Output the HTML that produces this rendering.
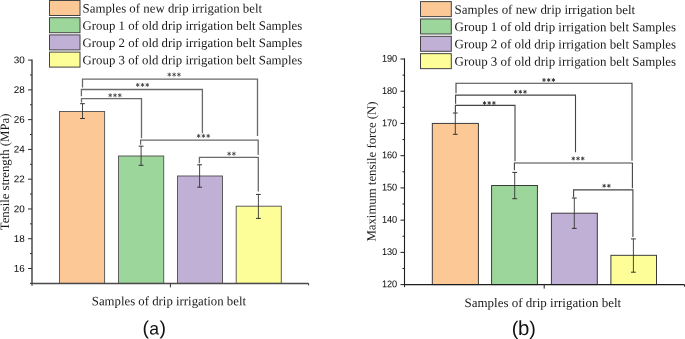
<!DOCTYPE html>
<html><head><meta charset="utf-8"><style>
html,body{margin:0;padding:0;background:#fff;}
body{width:685px;height:339px;overflow:hidden;}
svg{display:block;will-change:transform;}
text{font-kerning:normal;}
</style></head><body>
<svg width="685" height="339" viewBox="0 0 685 339">
<rect x="0" y="0" width="685" height="339" fill="#fff"/>
<rect x="49.5" y="0.5" width="30.5" height="15" fill="#FCC896" stroke="#444" stroke-width="1"/>
<rect x="49.5" y="17.7" width="30.5" height="15" fill="#9DD69B" stroke="#444" stroke-width="1"/>
<rect x="49.5" y="34.9" width="30.5" height="15" fill="#C1B0D6" stroke="#444" stroke-width="1"/>
<rect x="49.5" y="52.1" width="30.5" height="15" fill="#FEFE99" stroke="#444" stroke-width="1"/>
<text transform="rotate(0.04 82.6 12.5)" x="82.6" y="12.5" font-size="12.7" font-family='"Liberation Serif", serif' text-anchor="start" fill="#1a1a1a" textLength="179.5" lengthAdjust="spacingAndGlyphs" >Samples of new drip irrigation belt</text>
<text transform="rotate(0.04 82.6 29.73)" x="82.6" y="29.73" font-size="12.7" font-family='"Liberation Serif", serif' text-anchor="start" fill="#1a1a1a" textLength="219.6" lengthAdjust="spacingAndGlyphs" >Group 1 of old drip irrigation belt Samples</text>
<text transform="rotate(0.04 82.6 46.96)" x="82.6" y="46.96" font-size="12.7" font-family='"Liberation Serif", serif' text-anchor="start" fill="#1a1a1a" textLength="219.6" lengthAdjust="spacingAndGlyphs" >Group 2 of old drip irrigation belt Samples</text>
<text transform="rotate(0.04 82.6 64.19)" x="82.6" y="64.19" font-size="12.7" font-family='"Liberation Serif", serif' text-anchor="start" fill="#1a1a1a" textLength="219.6" lengthAdjust="spacingAndGlyphs" >Group 3 of old drip irrigation belt Samples</text>
<rect x="59.5" y="111.5" width="45.1" height="171.9" fill="#FCC896" stroke="#555" stroke-width="0.95"/>
<rect x="118.5" y="156" width="45.2" height="127.4" fill="#9DD69B" stroke="#555" stroke-width="0.95"/>
<rect x="177.5" y="176" width="45" height="107.4" fill="#C1B0D6" stroke="#555" stroke-width="0.95"/>
<rect x="236.2" y="206.2" width="45.1" height="77.2" fill="#FEFE99" stroke="#555" stroke-width="0.95"/>
<line x1="82.5" y1="103.7" x2="82.5" y2="118.5" stroke="#333" stroke-width="0.9"/>
<line x1="80.1" y1="103.7" x2="84.9" y2="103.7" stroke="#333" stroke-width="1"/>
<line x1="80.1" y1="118.5" x2="84.9" y2="118.5" stroke="#333" stroke-width="1"/>
<line x1="141.1" y1="146.2" x2="141.1" y2="165.3" stroke="#333" stroke-width="0.9"/>
<line x1="138.7" y1="146.2" x2="143.5" y2="146.2" stroke="#333" stroke-width="1"/>
<line x1="138.7" y1="165.3" x2="143.5" y2="165.3" stroke="#333" stroke-width="1"/>
<line x1="199.6" y1="164.8" x2="199.6" y2="187.2" stroke="#333" stroke-width="0.9"/>
<line x1="197.2" y1="164.8" x2="202" y2="164.8" stroke="#333" stroke-width="1"/>
<line x1="197.2" y1="187.2" x2="202" y2="187.2" stroke="#333" stroke-width="1"/>
<line x1="258.4" y1="194.4" x2="258.4" y2="218.4" stroke="#333" stroke-width="0.9"/>
<line x1="256" y1="194.4" x2="260.8" y2="194.4" stroke="#333" stroke-width="1"/>
<line x1="256" y1="218.4" x2="260.8" y2="218.4" stroke="#333" stroke-width="1"/>
<polyline points="82.5,86.9 82.5,79.1 257.5,79.1 257.5,135.3" fill="none" stroke="#6a6a6a" stroke-width="1.3" stroke-linejoin="miter" stroke-linecap="square"/>
<path d="M169.3 72.6L169.3 76.6M167.57 73.6L171.03 75.6M171.03 73.6L167.57 75.6" stroke="#444" stroke-width="0.85" fill="none"/>
<path d="M174.1 72.6L174.1 76.6M172.37 73.6L175.83 75.6M175.83 73.6L172.37 75.6" stroke="#444" stroke-width="0.85" fill="none"/>
<path d="M178.9 72.6L178.9 76.6M177.17 73.6L180.63 75.6M180.63 73.6L177.17 75.6" stroke="#444" stroke-width="0.85" fill="none"/>
<polyline points="81.4,95.7 81.4,89.5 202.4,89.5 202.4,132.5" fill="none" stroke="#6a6a6a" stroke-width="1.3" stroke-linejoin="miter" stroke-linecap="square"/>
<path d="M137.7 82.9L137.7 86.9M135.97 83.9L139.43 85.9M139.43 83.9L135.97 85.9" stroke="#444" stroke-width="0.85" fill="none"/>
<path d="M142.5 82.9L142.5 86.9M140.77 83.9L144.23 85.9M144.23 83.9L140.77 85.9" stroke="#444" stroke-width="0.85" fill="none"/>
<path d="M147.3 82.9L147.3 86.9M145.57 83.9L149.03 85.9M149.03 83.9L145.57 85.9" stroke="#444" stroke-width="0.85" fill="none"/>
<polyline points="81.5,101.8 81.5,98.6 141.5,98.6 141.5,137.7" fill="none" stroke="#6a6a6a" stroke-width="1.3" stroke-linejoin="miter" stroke-linecap="square"/>
<path d="M110.2 93.3L110.2 97.3M108.47 94.3L111.93 96.3M111.93 94.3L108.47 96.3" stroke="#444" stroke-width="0.85" fill="none"/>
<path d="M115 93.3L115 97.3M113.27 94.3L116.73 96.3M116.73 94.3L113.27 96.3" stroke="#444" stroke-width="0.85" fill="none"/>
<path d="M119.8 93.3L119.8 97.3M118.07 94.3L121.53 96.3M121.53 94.3L118.07 96.3" stroke="#444" stroke-width="0.85" fill="none"/>
<polyline points="140.6,144.2 140.6,140.2 258.2,140.2 258.2,154.3" fill="none" stroke="#6a6a6a" stroke-width="1.3" stroke-linejoin="miter" stroke-linecap="square"/>
<path d="M198.6 133.9L198.6 137.9M196.87 134.9L200.33 136.9M200.33 134.9L196.87 136.9" stroke="#444" stroke-width="0.85" fill="none"/>
<path d="M203.4 133.9L203.4 137.9M201.67 134.9L205.13 136.9M205.13 134.9L201.67 136.9" stroke="#444" stroke-width="0.85" fill="none"/>
<path d="M208.2 133.9L208.2 137.9M206.47 134.9L209.93 136.9M209.93 134.9L206.47 136.9" stroke="#444" stroke-width="0.85" fill="none"/>
<polyline points="199.4,162.7 199.4,157.3 258.3,157.3 258.3,190.9" fill="none" stroke="#6a6a6a" stroke-width="1.3" stroke-linejoin="miter" stroke-linecap="square"/>
<path d="M229.1 151.7L229.1 155.7M227.37 152.7L230.83 154.7M230.83 152.7L227.37 154.7" stroke="#444" stroke-width="0.85" fill="none"/>
<path d="M233.9 151.7L233.9 155.7M232.17 152.7L235.63 154.7M235.63 152.7L232.17 154.7" stroke="#444" stroke-width="0.85" fill="none"/>
<line x1="32" y1="59.5" x2="32" y2="284" stroke="#4a4a4a" stroke-width="1.5"/>
<line x1="31.4" y1="283.4" x2="308.6" y2="283.4" stroke="#4a4a4a" stroke-width="1.5"/>
<line x1="28" y1="60.1" x2="32" y2="60.1" stroke="#333" stroke-width="1"/>
<text transform="rotate(0.04 24.7 63.3)" x="24.7" y="63.3" font-size="9.8" font-family='"Liberation Sans", sans-serif' text-anchor="end" fill="#000" textLength="11.0" lengthAdjust="spacingAndGlyphs" >30</text>
<line x1="30" y1="74.99" x2="32" y2="74.99" stroke="#333" stroke-width="1"/>
<line x1="28" y1="89.87" x2="32" y2="89.87" stroke="#333" stroke-width="1"/>
<text transform="rotate(0.04 24.7 93.07)" x="24.7" y="93.07" font-size="9.8" font-family='"Liberation Sans", sans-serif' text-anchor="end" fill="#000" textLength="11.0" lengthAdjust="spacingAndGlyphs" >28</text>
<line x1="30" y1="104.76" x2="32" y2="104.76" stroke="#333" stroke-width="1"/>
<line x1="28" y1="119.64" x2="32" y2="119.64" stroke="#333" stroke-width="1"/>
<text transform="rotate(0.04 24.7 122.84)" x="24.7" y="122.84" font-size="9.8" font-family='"Liberation Sans", sans-serif' text-anchor="end" fill="#000" textLength="11.0" lengthAdjust="spacingAndGlyphs" >26</text>
<line x1="30" y1="134.53" x2="32" y2="134.53" stroke="#333" stroke-width="1"/>
<line x1="28" y1="149.42" x2="32" y2="149.42" stroke="#333" stroke-width="1"/>
<text transform="rotate(0.04 24.7 152.62)" x="24.7" y="152.62" font-size="9.8" font-family='"Liberation Sans", sans-serif' text-anchor="end" fill="#000" textLength="11.0" lengthAdjust="spacingAndGlyphs" >24</text>
<line x1="30" y1="164.3" x2="32" y2="164.3" stroke="#333" stroke-width="1"/>
<line x1="28" y1="179.19" x2="32" y2="179.19" stroke="#333" stroke-width="1"/>
<text transform="rotate(0.04 24.7 182.39)" x="24.7" y="182.39" font-size="9.8" font-family='"Liberation Sans", sans-serif' text-anchor="end" fill="#000" textLength="11.0" lengthAdjust="spacingAndGlyphs" >22</text>
<line x1="30" y1="194.07" x2="32" y2="194.07" stroke="#333" stroke-width="1"/>
<line x1="28" y1="208.96" x2="32" y2="208.96" stroke="#333" stroke-width="1"/>
<text transform="rotate(0.04 24.7 212.16)" x="24.7" y="212.16" font-size="9.8" font-family='"Liberation Sans", sans-serif' text-anchor="end" fill="#000" textLength="11.0" lengthAdjust="spacingAndGlyphs" >20</text>
<line x1="30" y1="223.85" x2="32" y2="223.85" stroke="#333" stroke-width="1"/>
<line x1="28" y1="238.73" x2="32" y2="238.73" stroke="#333" stroke-width="1"/>
<text transform="rotate(0.04 24.7 241.93)" x="24.7" y="241.93" font-size="9.8" font-family='"Liberation Sans", sans-serif' text-anchor="end" fill="#000" textLength="11.0" lengthAdjust="spacingAndGlyphs" >18</text>
<line x1="30" y1="253.62" x2="32" y2="253.62" stroke="#333" stroke-width="1"/>
<line x1="28" y1="268.5" x2="32" y2="268.5" stroke="#333" stroke-width="1"/>
<text transform="rotate(0.04 24.7 271.7)" x="24.7" y="271.7" font-size="9.8" font-family='"Liberation Sans", sans-serif' text-anchor="end" fill="#000" textLength="11.0" lengthAdjust="spacingAndGlyphs" >16</text>
<line x1="30" y1="283.39" x2="32" y2="283.39" stroke="#333" stroke-width="1"/>
<line x1="170.4" y1="283.4" x2="170.4" y2="287.4" stroke="#333" stroke-width="1"/>
<line x1="308.6" y1="283.4" x2="308.6" y2="285.4" stroke="#333" stroke-width="1"/>
<line x1="32" y1="283.4" x2="32" y2="285.9" stroke="#333" stroke-width="1"/>
<text transform="rotate(0.04 91.8 305.2)" x="91.8" y="305.2" font-size="12.8" font-family='"Liberation Serif", serif' text-anchor="start" fill="#1a1a1a" textLength="154.2" lengthAdjust="spacingAndGlyphs" >Samples of drip irrigation belt</text>
<text transform="translate(9,230.2) rotate(-89.96)" x="0" y="0" font-size="12.8" font-family='"Liberation Serif", serif' fill="#1a1a1a" textLength="116.6" lengthAdjust="spacingAndGlyphs">Tensile strength (MPa)</text>
<text transform="rotate(0.04 142.6 334.6)" x="142.6" y="334.6" font-size="19.5" font-family='"Liberation Sans", sans-serif' text-anchor="start" fill="#111" >(</text>
<text transform="rotate(0.04 149.2 334.6)" x="149.2" y="334.6" font-size="17.6" font-family='"Liberation Sans", sans-serif' text-anchor="start" fill="#111" >a</text>
<text transform="rotate(0.04 159.4 334.6)" x="159.4" y="334.6" font-size="19.5" font-family='"Liberation Sans", sans-serif' text-anchor="start" fill="#111" >)</text>
<rect x="420.5" y="1.6" width="30.8" height="15" fill="#FCC896" stroke="#444" stroke-width="1"/>
<rect x="420.5" y="18.95" width="30.8" height="15" fill="#9DD69B" stroke="#444" stroke-width="1"/>
<rect x="420.5" y="36.3" width="30.8" height="15" fill="#C1B0D6" stroke="#444" stroke-width="1"/>
<rect x="420.5" y="53.65" width="30.8" height="15" fill="#FEFE99" stroke="#444" stroke-width="1"/>
<text transform="rotate(0.04 454.6 13.8)" x="454.6" y="13.8" font-size="12.9" font-family='"Liberation Serif", serif' text-anchor="start" fill="#1a1a1a" textLength="180.6" lengthAdjust="spacingAndGlyphs" >Samples of new drip irrigation belt</text>
<text transform="rotate(0.04 454.6 31.07)" x="454.6" y="31.07" font-size="12.9" font-family='"Liberation Serif", serif' text-anchor="start" fill="#1a1a1a" textLength="221.5" lengthAdjust="spacingAndGlyphs" >Group 1 of old drip irrigation belt Samples</text>
<text transform="rotate(0.04 454.6 48.34)" x="454.6" y="48.34" font-size="12.9" font-family='"Liberation Serif", serif' text-anchor="start" fill="#1a1a1a" textLength="221.5" lengthAdjust="spacingAndGlyphs" >Group 2 of old drip irrigation belt Samples</text>
<text transform="rotate(0.04 454.6 65.61)" x="454.6" y="65.61" font-size="12.9" font-family='"Liberation Serif", serif' text-anchor="start" fill="#1a1a1a" textLength="221.5" lengthAdjust="spacingAndGlyphs" >Group 3 of old drip irrigation belt Samples</text>
<rect x="432.3" y="123.4" width="46.1" height="161.2" fill="#FCC896" stroke="#333" stroke-width="0.95"/>
<rect x="491.6" y="185.5" width="45.8" height="99.1" fill="#9DD69B" stroke="#333" stroke-width="0.95"/>
<rect x="551.4" y="213.2" width="45.9" height="71.4" fill="#C1B0D6" stroke="#333" stroke-width="0.95"/>
<rect x="610.9" y="255.3" width="45.6" height="29.3" fill="#FEFE99" stroke="#333" stroke-width="0.95"/>
<line x1="455.3" y1="113" x2="455.3" y2="134.3" stroke="#333" stroke-width="0.9"/>
<line x1="452.9" y1="113" x2="457.7" y2="113" stroke="#333" stroke-width="1"/>
<line x1="452.9" y1="134.3" x2="457.7" y2="134.3" stroke="#333" stroke-width="1"/>
<line x1="514.7" y1="172.4" x2="514.7" y2="198.7" stroke="#333" stroke-width="0.9"/>
<line x1="512.3" y1="172.4" x2="517.1" y2="172.4" stroke="#333" stroke-width="1"/>
<line x1="512.3" y1="198.7" x2="517.1" y2="198.7" stroke="#333" stroke-width="1"/>
<line x1="574.3" y1="198" x2="574.3" y2="228.4" stroke="#333" stroke-width="0.9"/>
<line x1="571.9" y1="198" x2="576.7" y2="198" stroke="#333" stroke-width="1"/>
<line x1="571.9" y1="228.4" x2="576.7" y2="228.4" stroke="#333" stroke-width="1"/>
<line x1="633.4" y1="238.9" x2="633.4" y2="272.2" stroke="#333" stroke-width="0.9"/>
<line x1="631" y1="238.9" x2="635.8" y2="238.9" stroke="#333" stroke-width="1"/>
<line x1="631" y1="272.2" x2="635.8" y2="272.2" stroke="#333" stroke-width="1"/>
<polyline points="456,92.6 456,83.3 632,83.3 632,160.3" fill="none" stroke="#444" stroke-width="1.1" stroke-linejoin="miter" stroke-linecap="square"/>
<path d="M544 78.1L544 81.9M542.35 79.05L545.65 80.95M545.65 79.05L542.35 80.95" stroke="#333" stroke-width="0.9" fill="none"/>
<path d="M548.7 78.1L548.7 81.9M547.05 79.05L550.35 80.95M550.35 79.05L547.05 80.95" stroke="#333" stroke-width="0.9" fill="none"/>
<path d="M553.4 78.1L553.4 81.9M551.75 79.05L555.05 80.95M555.05 79.05L551.75 80.95" stroke="#333" stroke-width="0.9" fill="none"/>
<polyline points="455.6,103.2 455.6,95.1 575.5,95.1 575.5,151.6" fill="none" stroke="#444" stroke-width="1.1" stroke-linejoin="miter" stroke-linecap="square"/>
<path d="M515.6 89.9L515.6 93.7M513.95 90.85L517.25 92.75M517.25 90.85L513.95 92.75" stroke="#333" stroke-width="0.9" fill="none"/>
<path d="M520.3 89.9L520.3 93.7M518.65 90.85L521.95 92.75M521.95 90.85L518.65 92.75" stroke="#333" stroke-width="0.9" fill="none"/>
<path d="M525 89.9L525 93.7M523.35 90.85L526.65 92.75M526.65 90.85L523.35 92.75" stroke="#333" stroke-width="0.9" fill="none"/>
<polyline points="455.4,112.2 455.4,105.4 515,105.4 515,160.6" fill="none" stroke="#444" stroke-width="1.1" stroke-linejoin="miter" stroke-linecap="square"/>
<path d="M484.5 101.1L484.5 104.9M482.85 102.05L486.15 103.95M486.15 102.05L482.85 103.95" stroke="#333" stroke-width="0.9" fill="none"/>
<path d="M489.2 101.1L489.2 104.9M487.55 102.05L490.85 103.95M490.85 102.05L487.55 103.95" stroke="#333" stroke-width="0.9" fill="none"/>
<path d="M493.9 101.1L493.9 104.9M492.25 102.05L495.55 103.95M495.55 102.05L492.25 103.95" stroke="#333" stroke-width="0.9" fill="none"/>
<polyline points="514.4,169.8 514.4,163 632.4,163 632.4,187.8" fill="none" stroke="#444" stroke-width="1.1" stroke-linejoin="miter" stroke-linecap="square"/>
<path d="M573.3 156.6L573.3 160.4M571.65 157.55L574.95 159.45M574.95 157.55L571.65 159.45" stroke="#333" stroke-width="0.9" fill="none"/>
<path d="M578 156.6L578 160.4M576.35 157.55L579.65 159.45M579.65 157.55L576.35 159.45" stroke="#333" stroke-width="0.9" fill="none"/>
<path d="M582.7 156.6L582.7 160.4M581.05 157.55L584.35 159.45M584.35 157.55L581.05 159.45" stroke="#333" stroke-width="0.9" fill="none"/>
<polyline points="573.6,196.7 573.6,189.9 632.9,189.9 632.9,236.5" fill="none" stroke="#444" stroke-width="1.1" stroke-linejoin="miter" stroke-linecap="square"/>
<path d="M604.15 183.9L604.15 187.7M602.5 184.85L605.8 186.75M605.8 184.85L602.5 186.75" stroke="#333" stroke-width="0.9" fill="none"/>
<path d="M608.85 183.9L608.85 187.7M607.2 184.85L610.5 186.75M610.5 184.85L607.2 186.75" stroke="#333" stroke-width="0.9" fill="none"/>
<line x1="404.5" y1="58.4" x2="404.5" y2="285.2" stroke="#1e1e1e" stroke-width="1.1"/>
<line x1="403.9" y1="284.6" x2="684.5" y2="284.6" stroke="#1e1e1e" stroke-width="1.1"/>
<line x1="400.5" y1="59" x2="404.5" y2="59" stroke="#1e1e1e" stroke-width="1"/>
<text transform="rotate(0.04 397.2 61.7)" x="397.2" y="61.7" font-size="9.8" font-family='"Liberation Sans", sans-serif' text-anchor="end" fill="#000" textLength="15.3" lengthAdjust="spacingAndGlyphs" >190</text>
<line x1="402.5" y1="75.11" x2="404.5" y2="75.11" stroke="#1e1e1e" stroke-width="1"/>
<line x1="400.5" y1="91.23" x2="404.5" y2="91.23" stroke="#1e1e1e" stroke-width="1"/>
<text transform="rotate(0.04 397.2 93.93)" x="397.2" y="93.93" font-size="9.8" font-family='"Liberation Sans", sans-serif' text-anchor="end" fill="#000" textLength="15.3" lengthAdjust="spacingAndGlyphs" >180</text>
<line x1="402.5" y1="107.34" x2="404.5" y2="107.34" stroke="#1e1e1e" stroke-width="1"/>
<line x1="400.5" y1="123.46" x2="404.5" y2="123.46" stroke="#1e1e1e" stroke-width="1"/>
<text transform="rotate(0.04 397.2 126.16)" x="397.2" y="126.16" font-size="9.8" font-family='"Liberation Sans", sans-serif' text-anchor="end" fill="#000" textLength="15.3" lengthAdjust="spacingAndGlyphs" >170</text>
<line x1="402.5" y1="139.57" x2="404.5" y2="139.57" stroke="#1e1e1e" stroke-width="1"/>
<line x1="400.5" y1="155.69" x2="404.5" y2="155.69" stroke="#1e1e1e" stroke-width="1"/>
<text transform="rotate(0.04 397.2 158.39)" x="397.2" y="158.39" font-size="9.8" font-family='"Liberation Sans", sans-serif' text-anchor="end" fill="#000" textLength="15.3" lengthAdjust="spacingAndGlyphs" >160</text>
<line x1="402.5" y1="171.81" x2="404.5" y2="171.81" stroke="#1e1e1e" stroke-width="1"/>
<line x1="400.5" y1="187.92" x2="404.5" y2="187.92" stroke="#1e1e1e" stroke-width="1"/>
<text transform="rotate(0.04 397.2 190.62)" x="397.2" y="190.62" font-size="9.8" font-family='"Liberation Sans", sans-serif' text-anchor="end" fill="#000" textLength="15.3" lengthAdjust="spacingAndGlyphs" >150</text>
<line x1="402.5" y1="204.03" x2="404.5" y2="204.03" stroke="#1e1e1e" stroke-width="1"/>
<line x1="400.5" y1="220.15" x2="404.5" y2="220.15" stroke="#1e1e1e" stroke-width="1"/>
<text transform="rotate(0.04 397.2 222.85)" x="397.2" y="222.85" font-size="9.8" font-family='"Liberation Sans", sans-serif' text-anchor="end" fill="#000" textLength="15.3" lengthAdjust="spacingAndGlyphs" >140</text>
<line x1="402.5" y1="236.26" x2="404.5" y2="236.26" stroke="#1e1e1e" stroke-width="1"/>
<line x1="400.5" y1="252.38" x2="404.5" y2="252.38" stroke="#1e1e1e" stroke-width="1"/>
<text transform="rotate(0.04 397.2 255.08)" x="397.2" y="255.08" font-size="9.8" font-family='"Liberation Sans", sans-serif' text-anchor="end" fill="#000" textLength="15.3" lengthAdjust="spacingAndGlyphs" >130</text>
<line x1="402.5" y1="268.5" x2="404.5" y2="268.5" stroke="#1e1e1e" stroke-width="1"/>
<line x1="400.5" y1="284.61" x2="404.5" y2="284.61" stroke="#1e1e1e" stroke-width="1"/>
<text transform="rotate(0.04 397.2 287.31)" x="397.2" y="287.31" font-size="9.8" font-family='"Liberation Sans", sans-serif' text-anchor="end" fill="#000" textLength="15.3" lengthAdjust="spacingAndGlyphs" >120</text>
<line x1="544.2" y1="284.6" x2="544.2" y2="288.6" stroke="#1e1e1e" stroke-width="1"/>
<line x1="684.5" y1="284.6" x2="684.5" y2="286.6" stroke="#1e1e1e" stroke-width="1"/>
<line x1="404.5" y1="284.6" x2="404.5" y2="287.1" stroke="#1e1e1e" stroke-width="1"/>
<text transform="rotate(0.04 464.4 307)" x="464.4" y="307" font-size="12.9" font-family='"Liberation Serif", serif' text-anchor="start" fill="#1a1a1a" textLength="156.8" lengthAdjust="spacingAndGlyphs" >Samples of drip irrigation belt</text>
<text transform="translate(375.6,241.6) rotate(-89.96)" x="0" y="0" font-size="12.7" font-family='"Liberation Serif", serif' fill="#1a1a1a" textLength="140.2" lengthAdjust="spacingAndGlyphs">Maximum tensile force (N)</text>
<text transform="rotate(0.04 511.8 334.9)" x="511.8" y="334.9" font-size="19.8" font-family='"Liberation Sans", sans-serif' text-anchor="start" fill="#111" >(</text>
<text transform="rotate(0.04 518 334.9)" x="518" y="334.9" font-size="20.4" font-family='"Liberation Sans", sans-serif' text-anchor="start" fill="#111" >b</text>
<text transform="rotate(0.04 529.3 334.9)" x="529.3" y="334.9" font-size="19.8" font-family='"Liberation Sans", sans-serif' text-anchor="start" fill="#111" >)</text>
</svg>
</body></html>
